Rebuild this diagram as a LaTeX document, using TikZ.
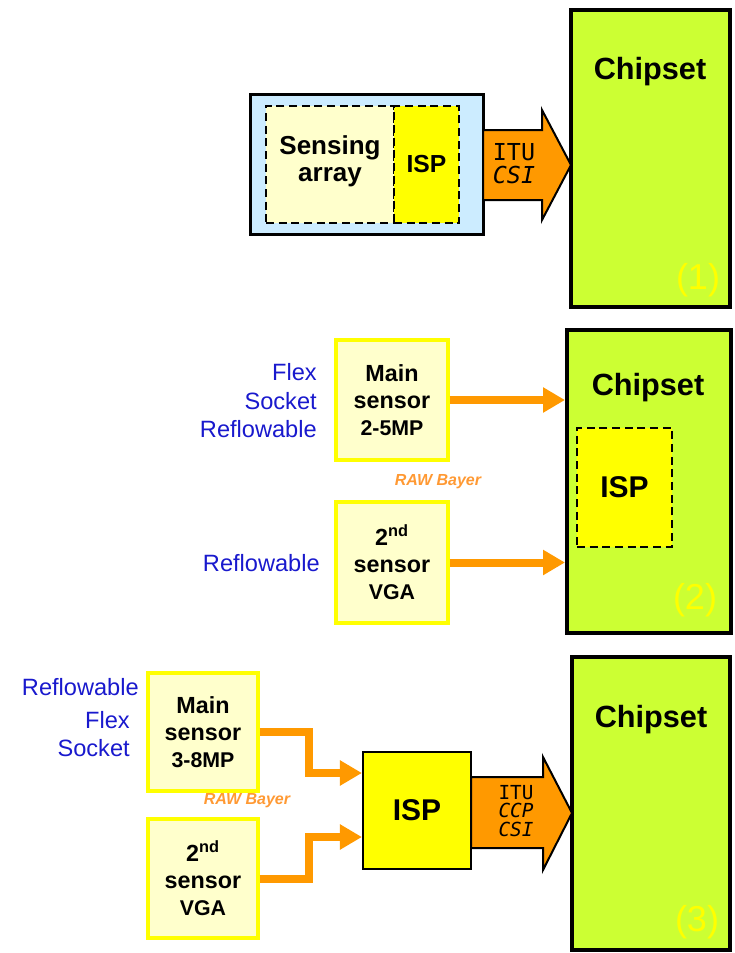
\documentclass[tikz,border=0pt]{standalone}
\usepackage{fontspec}
\setmainfont{Liberation Sans}
\newfontfamily\monof{DejaVu Sans Mono}
\usetikzlibrary{arrows.meta}
\definecolor{chipgreen}{HTML}{CCFF33}
\definecolor{lightblue}{HTML}{CCECFF}
\definecolor{lightyel}{HTML}{FFFFCC}
\definecolor{yel}{HTML}{FFFF00}
\definecolor{orng}{HTML}{FF9900}
\definecolor{bluetxt}{RGB}{25,25,205}
\definecolor{rawcol}{RGB}{255,153,51}
\tikzset{
  chip/.style={draw=black, line width=3pt, fill=chipgreen, inner sep=0pt},
  chiplabel/.style={font=\fontsize{23}{26}\selectfont\bfseries, inner sep=0pt},
  numlabel/.style={font=\fontsize{27}{30}\selectfont, text=yel, inner sep=0pt},
  dashbox/.style={draw=black, line width=1.8pt, dash pattern=on 6pt off 3.5pt, inner sep=0pt},
  sensorbox/.style={draw=yel, line width=2.6pt, fill=lightyel, inner sep=0pt, align=center,
     font=\fontsize{17.5}{20.5}\selectfont\bfseries},
  ispbox/.style={draw=black, line width=1.6pt, fill=yel, inner sep=0pt,
     font=\fontsize{22.5}{25}\selectfont\bfseries},
  bluelbl/.style={text=bluetxt, font=\fontsize{17.7}{21.4}\selectfont, inner sep=0pt, align=right},
  rawlbl/.style={text=rawcol, font=\fontsize{12}{14}\selectfont\bfseries\itshape, inner sep=0pt},
  oarrow/.style={draw=orng, line width=6pt, line join=miter,
     -{Triangle[length=16.5pt,width=18pt]}},
  bigarrow/.style={draw=black, line width=1.5pt, fill=orng, line join=miter},
  monolbl/.style={inner sep=0pt, align=center}
}
\begin{document}
\begin{tikzpicture}[x=0.75pt,y=-0.75pt]
\useasboundingbox (0,0) rectangle (735,953);

% ---------- Section 1 ----------
\node[chip, minimum width=119.25pt, minimum height=222.75pt] (chip1) at (650.5,158.5) {};
\node[chiplabel] (chip1l) at (650,72) {Chipset};
\node[numlabel] (num1) at (698,280) {(1)};

\node[draw=black, line width=2.25pt, fill=lightblue, minimum width=174.75pt, minimum height=105pt, inner sep=0pt] (mod1) at (366.5,164) {};
\node[dashbox, fill=lightyel, minimum width=96pt, minimum height=87.75pt] (sens1) at (330,164.5) {};
\node[align=center, inner sep=0pt, font=\fontsize{19.5}{20.3}\selectfont\bfseries] (sens1t) at (330,161) {Sensing\\array};
\node[dashbox, fill=yel, minimum width=48.75pt, minimum height=87.75pt,
      font=\fontsize{18.5}{20}\selectfont\bfseries] (isp1) at (426.5,164.5) {ISP};

\draw[bigarrow] (483,130) -- (542,130) -- (542,110) -- (571,165) -- (542,220) -- (542,200) -- (483,200) -- cycle;
\node[monolbl, font=\fontsize{17.5}{17.25}\selectfont\monof] (bus1) at (514,164) {ITU\\\textit{CSI}};

% ---------- Section 2 ----------
\node[chip, minimum width=123pt, minimum height=227.25pt] (chip2) at (649,481.5) {};
\node[chiplabel] (chip2l) at (648,388) {Chipset};
\node[numlabel] (num2) at (695,600) {(2)};
\node[dashbox, fill=yel, minimum width=71.25pt, minimum height=89.25pt,
      font=\fontsize{22.5}{25}\selectfont\bfseries] (isp2) at (624.5,487.5) {ISP};

\node[sensorbox, minimum width=84pt, minimum height=90pt] (ms2) at (392,400)
  {Main\\sensor\\{\fontsize{16}{20.5}\selectfont 2-5MP}};
\node[sensorbox, minimum width=84pt, minimum height=90.75pt] (ss2) at (392,562.5)
  {2\textsuperscript{nd}\\sensor\\{\fontsize{16}{20.5}\selectfont VGA}};

\node[bluelbl, anchor=east] (lbl2a) at (317,401) {Flex\\Socket\\Reflowable};
\node[bluelbl, anchor=east] (lbl2b) at (320,563) {Reflowable};
\node[rawlbl] (raw2) at (438,482) {RAW Bayer};

\draw[oarrow] (ms2.east) -- (ms2.east -| chip2.west);
\draw[oarrow] (ss2.east) -- (ss2.east -| chip2.west);

% ---------- Section 3 ----------
\node[chip, minimum width=118.5pt, minimum height=219.75pt] (chip3) at (651,803.5) {};
\node[chiplabel] (chip3l) at (651,720) {Chipset};
\node[numlabel] (num3) at (697,922) {(3)};

\node[sensorbox, minimum width=82.5pt, minimum height=88.5pt] (ms3) at (203,732)
  {Main\\sensor\\{\fontsize{16}{20.5}\selectfont 3-8MP}};
\node[sensorbox, minimum width=82.5pt, minimum height=89.25pt] (ss3) at (203,878.5)
  {2\textsuperscript{nd}\\sensor\\{\fontsize{16}{20.5}\selectfont VGA}};

\node[bluelbl, anchor=east] (lbl3a) at (139,687) {Reflowable};
\node[bluelbl, anchor=east] (lbl3b) at (130,734) {Flex\\Socket};
\node[rawlbl] (raw3) at (247,801) {RAW Bayer};

\node[ispbox, minimum width=81pt, minimum height=87.75pt] (isp3) at (417,810.5) {ISP};

\coordinate (j1) at (309,773);
\coordinate (j2) at (309,837);
\draw[oarrow] (ms3.east) -| (j1) -- (j1 -| isp3.west);
\draw[oarrow] (ss3.east) -| (j2) -- (j2 -| isp3.west);

\draw[bigarrow] (471,777) -- (543,777) -- (543,757) -- (572,813) -- (543,870) -- (543,848) -- (471,848) -- cycle;
\node[monolbl, font=\fontsize{14.5}{14}\selectfont\monof] (bus3) at (516,811) {ITU\\\textit{CCP}\\\textit{CSI}};

\end{tikzpicture}
\end{document}
